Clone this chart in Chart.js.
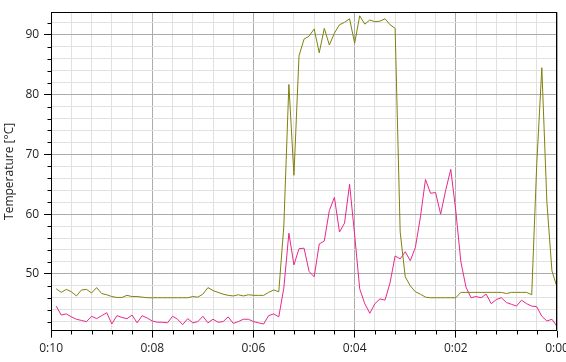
<!DOCTYPE html>
<html>
<head>
<meta charset="utf-8">
<script src="https://cdn.jsdelivr.net/npm/chart.js@4.4.1/dist/chart.umd.min.js"></script>
<style>
    html, body { margin: 0; padding: 0; background: #fff; overflow: hidden; }
    #wrap { width: 566px; height: 362px; }
</style>
</head>
<body>
<div id="wrap"><canvas id="chart"></canvas></div>
<script>
// time axis counts down from 0:10 to 0:00, one sample every 0.1
const times = Array.from({ length: 100 }, (_, i) => +(9.9 - i * 0.1).toFixed(1));

const olive = [
    47.5, 46.9, 47.4, 47.0, 46.3, 47.3, 47.4, 46.8, 47.7, 46.7,
    46.5, 46.2, 46.05, 46.05, 46.4, 46.2, 46.2, 46.1, 46.0, 46.0,
    46.0, 46.0, 46.0, 46.0, 46.0, 46.0, 46.0, 46.2, 46.1, 46.6,
    47.7, 47.2, 46.9, 46.6, 46.4, 46.3, 46.5, 46.3, 46.5, 46.4,
    46.4, 46.4, 46.9, 47.3, 47.0, 58.0, 81.7, 66.5, 86.5, 89.3,
    89.8, 91.0, 87.0, 91.1, 88.3, 90.3, 91.7, 92.1, 92.7, 88.6,
    93.2, 91.8, 92.5, 92.2, 92.3, 92.7, 91.7, 91.1, 57.0, 49.5,
    48.0, 47.0, 46.6, 46.1, 46.0, 46.0, 46.0, 46.0, 46.0, 46.0,
    46.9, 46.9, 46.9, 46.9, 46.9, 46.9, 46.9, 46.9, 46.9, 46.7,
    46.9, 46.9, 46.9, 46.9, 46.5, 68.4, 84.5, 62.0, 50.5, 47.8
];

const pink = [
    44.6, 43.1, 43.3, 42.8, 42.4, 42.2, 42.0, 42.9, 42.5, 43.0,
    43.5, 41.6, 43.0, 42.7, 42.5, 43.1, 41.8, 43.0, 42.6, 42.1,
    41.9, 41.9, 41.8, 42.9, 42.4, 41.5, 42.5, 41.8, 42.0, 42.9,
    41.8, 42.4, 41.9, 42.0, 42.8, 41.7, 42.0, 42.4, 42.4, 42.0,
    41.8, 41.6, 43.0, 43.3, 42.8, 47.6, 56.8, 51.5, 54.2, 54.3,
    50.4, 49.5, 55.0, 55.5, 60.6, 62.8, 57.0, 58.5, 65.0, 56.5,
    47.5, 45.0, 43.4, 45.0, 45.8, 45.6, 48.5, 53.0, 52.5, 53.7,
    52.2, 54.4, 59.5, 65.8, 63.5, 63.6, 60.0, 64.0, 67.5, 60.5,
    52.0, 47.8, 46.0, 46.2, 46.0, 46.6, 45.0, 45.7, 46.0, 45.2,
    44.9, 44.6, 45.6, 45.0, 44.6, 44.5, 42.9, 42.1, 42.4, 41.2
];

const xMajor = [10, 8, 6, 4, 2, 0];
const xLabels = ['0:10', '0:08', '0:06', '0:04', '0:02', '0:00'];
const yMajor = [50, 60, 70, 80, 90];
const yLabels = ['50', '60', '70', '80', '90'];

const xMinorStep = 0.4;
const yMinorStep = 2;
const yMin = 40.5;
const yMax = 93.8;

const majorGrid = '#ababab';
const minorGrid = '#e1e1e1';
const textColor = '#1e1e1e';
const font = { family: "'Open Sans', 'DejaVu Sans', sans-serif", size: 12 };

function steps(lo, hi, step) {
    const out = [];
    for (let v = lo; v <= hi + 1e-6; v += step) {
        out.push(Math.round(v * 100) / 100);
    }
    return out;
}

const xTickValues = steps(0, 10, xMinorStep);
const yTickValues = steps(42, 92, yMinorStep);

const isIn = (list, v) => list.some((m) => Math.abs(m - v) < 1e-6);

// black frame round the plot + short minor tick marks
const frame = {
    id: 'frame',
    afterDraw(chart) {
        const { ctx, chartArea: a, scales } = chart;
        ctx.save();
        ctx.strokeStyle = '#000';
        ctx.lineWidth = 1;
        const l = Math.round(a.left) + 0.5;
        const r = Math.round(a.right) - 0.5;
        const t = Math.round(a.top) + 0.5;
        const b = Math.round(a.bottom) - 0.5;
        ctx.strokeRect(l, t, r - l, b - t);
        ctx.beginPath();
        xTickValues.forEach((v) => {
            if (isIn(xMajor, v)) return;
            const px = Math.round(scales.x.getPixelForValue(v)) + 0.5;
            ctx.moveTo(px, b);
            ctx.lineTo(px, b + 4);
        });
        yTickValues.forEach((v) => {
            if (isIn(yMajor, v)) return;
            const py = Math.round(scales.y.getPixelForValue(v)) + 0.5;
            ctx.moveTo(l, py);
            ctx.lineTo(l - 4, py);
        });
        ctx.stroke();
        ctx.restore();
    },
};

new Chart(document.getElementById('chart'), {
    type: 'line',
    data: {
        datasets: [
            {
                label: 'olive',
                data: times.map((t, i) => ({ x: t, y: olive[i] })),
                borderColor: '#80800f',
                borderWidth: 1,
                pointRadius: 0,
                tension: 0,
            },
            {
                label: 'pink',
                data: times.map((t, i) => ({ x: t, y: pink[i] })),
                borderColor: '#e8288c',
                borderWidth: 1,
                pointRadius: 0,
                tension: 0,
            },
        ],
    },
    options: {
        responsive: true,
        maintainAspectRatio: false,
        animation: false,
        layout: { padding: { top: 2, bottom: 2, left: 2, right: 9 } },
        plugins: {
            legend: { display: false },
            tooltip: { enabled: false },
        },
        scales: {
            x: {
                type: 'linear',
                reverse: true,
                min: 0,
                max: 10,
                afterBuildTicks: (axis) => {
                    axis.ticks = xTickValues.map((v) => ({ value: v }));
                },
                ticks: {
                    autoSkip: false,
                    maxRotation: 0,
                    padding: 4,
                    color: textColor,
                    font,
                    callback: (v) => {
                        const k = xMajor.findIndex((m) => Math.abs(m - v) < 1e-6);
                        return k >= 0 ? xLabels[k] : '';
                    },
                },
                grid: {
                    color: (c) => (isIn(xMajor, c.tick.value) ? majorGrid : minorGrid),
                    tickColor: (c) => (isIn(xMajor, c.tick.value) ? '#000' : 'rgba(0,0,0,0)'),
                    tickLength: 7,
                },
                border: { display: false },
            },
            y: {
                min: yMin,
                max: yMax,
                afterBuildTicks: (axis) => {
                    axis.ticks = yTickValues.map((v) => ({ value: v }));
                },
                ticks: {
                    autoSkip: false,
                    padding: 5,
                    color: textColor,
                    font,
                    callback: (v) => {
                        const k = yMajor.findIndex((m) => Math.abs(m - v) < 1e-6);
                        return k >= 0 ? yLabels[k] : '';
                    },
                },
                grid: {
                    color: (c) => (isIn(yMajor, c.tick.value) ? majorGrid : minorGrid),
                    tickColor: (c) => (isIn(yMajor, c.tick.value) ? '#000' : 'rgba(0,0,0,0)'),
                    tickLength: 7,
                },
                border: { display: false },
                title: {
                    display: true,
                    text: 'Temperature [°C]',
                    color: textColor,
                    font,
                    padding: { top: 0, bottom: 4 },
                },
            },
        },
    },
    plugins: [frame],
});
</script>
</body>
</html>
